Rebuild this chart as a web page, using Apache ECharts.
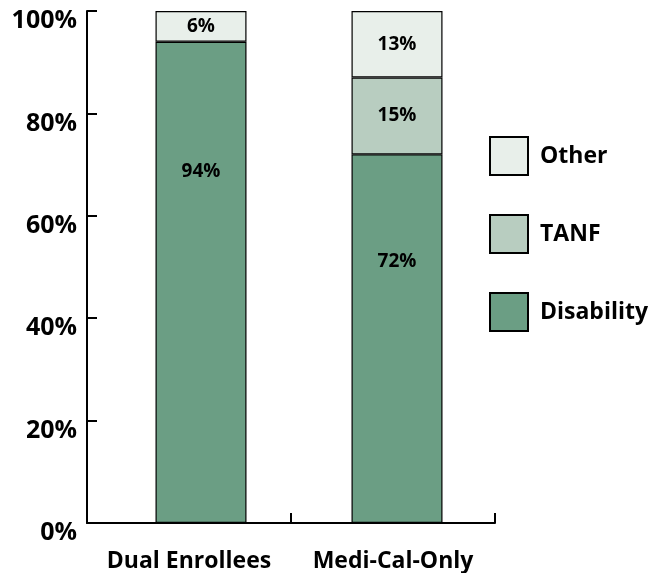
<!DOCTYPE html>
<html>
<head>
<meta charset="utf-8">
<script src="https://cdn.jsdelivr.net/npm/echarts@6/dist/echarts.min.js"></script>
<style>
html,body{margin:0;padding:0;background:#fff;}
#chart{width:653px;height:573px;}
</style>
</head>
<body>
<div id="chart"></div>
<script>
var categories = ['Dual Enrollees', 'Medi-Cal-Only'];
var disability = [94, 72];
var tanf = ['-', 15];
var other = [6, 13];
var yTicks = [0, 20, 40, 60, 80, 100];

var FONT = '"Open Sans"';
var disLabelPos = [['50%', '27%'], ['50%', '29%']];

var chart = echarts.init(document.getElementById('chart'), null, {renderer: 'canvas'});

var border = {borderColor: '#000', borderWidth: 1.2};

var option = {
  backgroundColor: '#fff',
  animation: false,
  grid: [
    {left: 87, right: 158, top: 11, bottom: 50},
    {left: 103, right: 158, top: 11, bottom: 50}
  ],
  legend: {
    orient: 'vertical',
    left: 489,
    top: 136,
    padding: 0,
    itemWidth: 38,
    itemHeight: 38,
    itemGap: 38,
    icon: 'rect',
    data: ['Other', 'TANF', 'Disability'],
    textStyle: {fontFamily: FONT, fontWeight: 'bold', fontSize: 23, color: '#000', padding: [0, 0, 0, 7]}
  },
  xAxis: [
    {
      type: 'category', gridIndex: 0, data: categories,
      axisLine: {show: true, lineStyle: {color: '#000', width: 2}},
      axisTick: {show: true, interval: 0, inside: false, length: -10, lineStyle: {color: '#000', width: 2}},
      axisLabel: {interval: 0, hideOverlap: false, fontFamily: FONT, fontWeight: 'bold', fontSize: 23, color: '#000', margin: 27}
    },
    {
      type: 'category', gridIndex: 1, data: categories, show: false
    }
  ],
  yAxis: [
    {
      type: 'value', gridIndex: 0, min: yTicks[0], max: yTicks[yTicks.length - 1], interval: 20,
      axisLine: {show: true, lineStyle: {color: '#000', width: 2}},
      axisTick: {show: true, inside: false, length: -10, lineStyle: {color: '#000', width: 2}},
      splitLine: {show: false},
      axisLabel: {formatter: '{value}%', fontFamily: FONT, fontWeight: 'bold', fontSize: 25, color: '#000', margin: 10, verticalAlign: 'top', lineHeight: 20}
    },
    {
      type: 'value', gridIndex: 1, min: 0, max: 100, show: false
    }
  ],
  series: [
    {
      name: 'Disability', type: 'bar', stack: 's', xAxisIndex: 1, yAxisIndex: 1, barWidth: 91,
      itemStyle: Object.assign({color: '#6b9e84'}, border),
      data: disability.map(function (v, i) {
        return {value: v, label: {position: disLabelPos[i]}};
      }),
      label: {show: true, formatter: '{c}%', align: 'center', verticalAlign: 'middle', fontFamily: FONT, fontWeight: 'bold', fontSize: 19, color: '#000'}
    },
    {
      name: 'TANF', type: 'bar', stack: 's', xAxisIndex: 1, yAxisIndex: 1, barWidth: 91,
      itemStyle: Object.assign({color: '#b8cdc0'}, border),
      data: tanf,
      label: {show: true, position: 'inside', formatter: '{c}%', fontFamily: FONT, fontWeight: 'bold', fontSize: 19, color: '#000'}
    },
    {
      name: 'Other', type: 'bar', stack: 's', xAxisIndex: 1, yAxisIndex: 1, barWidth: 91,
      itemStyle: Object.assign({color: '#e8efea'}, border),
      data: other,
      label: {show: true, position: 'inside', formatter: '{c}%', fontFamily: FONT, fontWeight: 'bold', fontSize: 19, color: '#000'}
    }
  ]
};
chart.setOption(option);
</script>
</body>
</html>
